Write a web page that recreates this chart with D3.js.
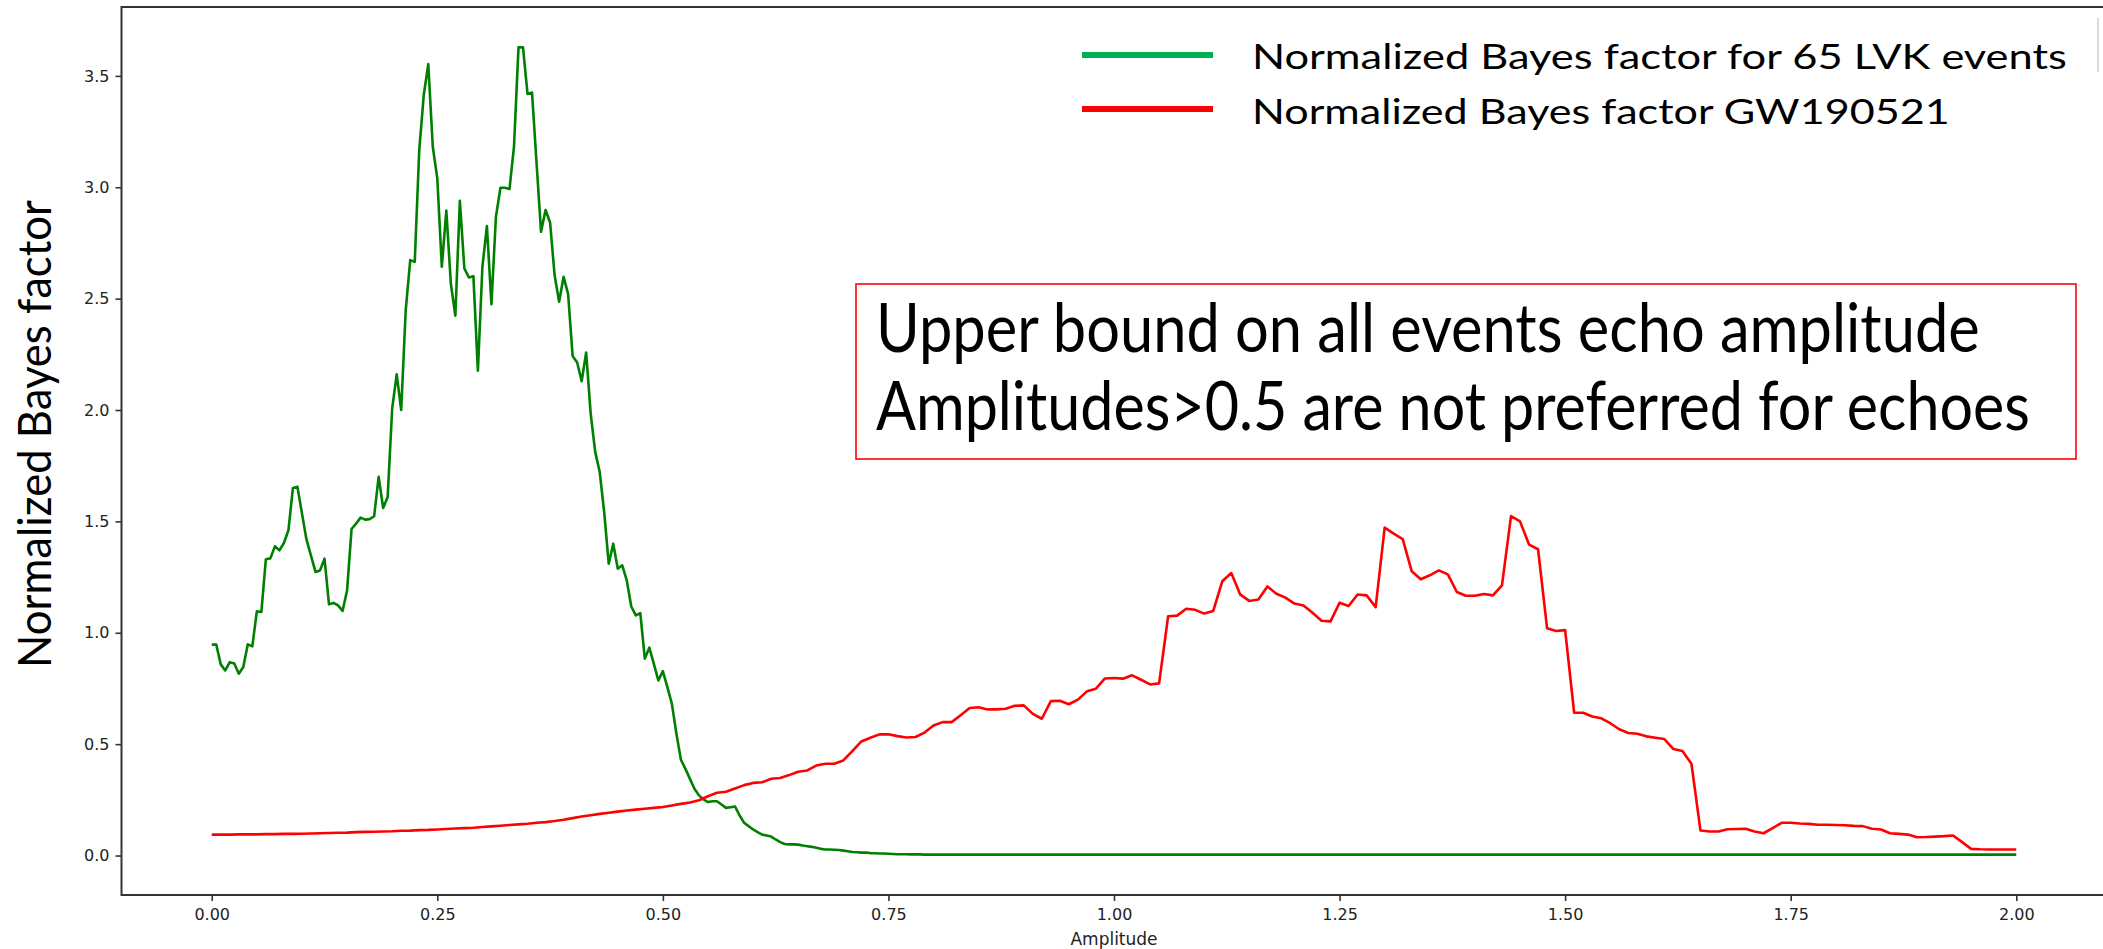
<!DOCTYPE html>
<html>
<head>
<meta charset="utf-8">
<script src="https://cdn.jsdelivr.net/npm/d3@7"></script>
<style>
  html, body { margin: 0; padding: 0; background: #ffffff; }
  svg { display: block; }
</style>
</head>
<body>
<svg id="chart" width="2103" height="949"></svg>
<script>
// Normalized Bayes factor versus echo amplitude.

// Stacked result for 65 LVK events, sampled every 0.005 in amplitude from 0 to 0.80
const greenStep = 0.005;
const greenBF = [
  0.947, 0.947, 0.858, 0.831, 0.868, 0.862, 0.816, 0.846, 0.948, 0.939,
  1.096, 1.093, 1.330, 1.334, 1.388, 1.370, 1.403, 1.460, 1.650, 1.655,
  1.536, 1.419, 1.346, 1.273, 1.280, 1.333, 1.128, 1.134, 1.123, 1.098,
  1.190, 1.466, 1.490, 1.517, 1.508, 1.510, 1.523, 1.700, 1.560, 1.610,
  2.007, 2.160, 2.000, 2.448, 2.673, 2.665, 3.167, 3.414, 3.553, 3.182,
  3.040, 2.643, 2.895, 2.568, 2.423, 2.939, 2.636, 2.595, 2.601, 2.176,
  2.643, 2.826, 2.475, 2.868, 2.998, 2.998, 2.992, 3.182, 3.628, 3.628,
  3.419, 3.425, 3.110, 2.800, 2.898, 2.842, 2.606, 2.486, 2.598, 2.520,
  2.242, 2.213, 2.129, 2.258, 1.984, 1.812, 1.722, 1.540, 1.310, 1.400,
  1.288, 1.303, 1.235, 1.118, 1.078, 1.088, 0.884, 0.933, 0.860, 0.786,
  0.828, 0.756, 0.681, 0.547, 0.430, 0.389, 0.344, 0.300, 0.270, 0.252,
  0.240, 0.244, 0.244, 0.229, 0.214, 0.217, 0.220, 0.180, 0.147, 0.132,
  0.117, 0.105, 0.094, 0.090, 0.085, 0.072, 0.060, 0.052, 0.050, 0.050,
  0.049, 0.045, 0.042, 0.039, 0.035, 0.030, 0.027, 0.027, 0.026, 0.025,
  0.022, 0.019, 0.016, 0.015, 0.013, 0.013, 0.011, 0.010, 0.009, 0.009,
  0.008, 0.007, 0.006, 0.006, 0.006, 0.005, 0.005, 0.005, 0.004, 0.004,
  0.004
];
// Remaining flat part of the stacked curve, [amplitude, value]
const greenTail = [
  [0.90, 0.004], [1.00, 0.004], [1.10, 0.004], [1.20, 0.004], [1.30, 0.004],
  [1.40, 0.004], [1.50, 0.004], [1.60, 0.004], [1.70, 0.004], [1.80, 0.004],
  [1.90, 0.004], [2.00, 0.004]
];

// GW190521 alone, sampled every 0.01 in amplitude from 0 to 2
const redStep = 0.01;
const redBF = [
  0.094, 0.094, 0.094, 0.095, 0.095, 0.095, 0.096, 0.096, 0.097, 0.097,
  0.098, 0.099, 0.100, 0.101, 0.102, 0.103, 0.105, 0.106, 0.107, 0.108,
  0.109, 0.111, 0.112, 0.114, 0.115, 0.117, 0.119, 0.121, 0.123, 0.125,
  0.128, 0.131, 0.134, 0.137, 0.140, 0.143, 0.147, 0.150, 0.155, 0.161,
  0.168, 0.175, 0.181, 0.187, 0.192, 0.197, 0.202, 0.206, 0.210, 0.214,
  0.218, 0.225, 0.232, 0.238, 0.248, 0.266, 0.282, 0.286, 0.301, 0.316,
  0.326, 0.329, 0.345, 0.348, 0.361, 0.376, 0.382, 0.404, 0.412, 0.412,
  0.427, 0.469, 0.512, 0.529, 0.544, 0.544, 0.536, 0.530, 0.532, 0.552,
  0.584, 0.599, 0.599, 0.630, 0.662, 0.666, 0.656, 0.656, 0.659, 0.672,
  0.674, 0.636, 0.614, 0.693, 0.695, 0.679, 0.700, 0.737, 0.749, 0.795,
  0.797, 0.794, 0.809, 0.789, 0.768, 0.773, 1.074, 1.077, 1.108, 1.103,
  1.086, 1.098, 1.231, 1.268, 1.171, 1.143, 1.149, 1.208, 1.175, 1.158,
  1.131, 1.122, 1.090, 1.054, 1.051, 1.135, 1.120, 1.172, 1.168, 1.115,
  1.472, 1.445, 1.420, 1.276, 1.240, 1.258, 1.280, 1.262, 1.183, 1.166,
  1.166, 1.174, 1.168, 1.213, 1.524, 1.500, 1.396, 1.375, 1.020, 1.008,
  1.012, 0.641, 0.641, 0.624, 0.616, 0.594, 0.567, 0.550, 0.547, 0.535,
  0.529, 0.523, 0.478, 0.469, 0.412, 0.112, 0.108, 0.108, 0.118, 0.119,
  0.120, 0.108, 0.100, 0.123, 0.147, 0.147, 0.144, 0.142, 0.138, 0.138,
  0.137, 0.136, 0.133, 0.132, 0.120, 0.117, 0.100, 0.097, 0.094, 0.082,
  0.083, 0.085, 0.087, 0.090, 0.060, 0.030, 0.028, 0.027, 0.027, 0.027,
  0.027
];

const xTicks = [0, 0.25, 0.5, 0.75, 1.0, 1.25, 1.5, 1.75, 2.0];
const yTicks = [0, 0.5, 1.0, 1.5, 2.0, 2.5, 3.0, 3.5];

const seriesNames = [
  "Normalized Bayes factor for 65 LVK events",
  "Normalized Bayes factor GW190521"
];
const noteLines = [
  "Upper bound on all events echo amplitude",
  "Amplitudes>0.5 are not preferred for echoes"
];
const xTitle = "Amplitude";
const yTitle = "Normalized Bayes factor";

// ---------------------------------------------------------------------------

const greenPoints = greenBF.map((v, i) => [i * greenStep, v]).concat(greenTail);
const redPoints = redBF.map((v, i) => [i * redStep, v]);

const svg = d3.select("#chart");

// Plot frame (the right edge falls just outside the canvas)
const frame = { left: 121.5, right: 2106.5, top: 7, bottom: 895 };

// Data limits padded by 5% on each side
const allPts = greenPoints.concat(redPoints);
const xExt = d3.extent(allPts, d => d[0]);
const yExt = d3.extent(allPts, d => d[1]);
const xPad = 0.05 * (xExt[1] - xExt[0]);
const yPad = 0.05 * (yExt[1] - yExt[0]);

const x = d3.scaleLinear()
  .domain([xExt[0] - xPad, xExt[1] + xPad])
  .range([frame.left, frame.right]);
const y = d3.scaleLinear()
  .domain([yExt[0] - yPad, yExt[1] + yPad])
  .range([frame.bottom, frame.top]);

const tickFont = "'DejaVu Sans', sans-serif";
const textColor = "#222222";

// Axes
const xAxis = svg.append("g")
  .attr("transform", `translate(0,${frame.bottom})`)
  .call(d3.axisBottom(x).tickValues(xTicks).tickFormat(d3.format(".2f"))
    .tickSize(6).tickPadding(8));
const yAxis = svg.append("g")
  .attr("transform", `translate(${frame.left},0)`)
  .call(d3.axisLeft(y).tickValues(yTicks).tickFormat(d3.format(".1f"))
    .tickSize(6).tickPadding(6));

[xAxis, yAxis].forEach(g => {
  g.select(".domain").remove();
  g.selectAll(".tick line").attr("stroke", "#333333").attr("stroke-width", 1.6);
  g.selectAll(".tick text")
    .attr("fill", textColor)
    .style("font-family", tickFont)
    .style("font-size", "16px");
});

// Spines
svg.append("rect")
  .attr("x", frame.left).attr("y", frame.top)
  .attr("width", frame.right - frame.left)
  .attr("height", frame.bottom - frame.top)
  .attr("fill", "none")
  .attr("stroke", "#333333").attr("stroke-width", 2);

// Curves
const line = d3.line().x(d => x(d[0])).y(d => y(d[1]));
const curves = [
  { pts: greenPoints, color: "#008000" },
  { pts: redPoints, color: "#ff0000" }
];
svg.append("g").selectAll("path")
  .data(curves)
  .join("path")
  .attr("d", d => line(d.pts))
  .attr("fill", "none")
  .attr("stroke", d => d.color)
  .attr("stroke-width", 2.6)
  .attr("stroke-linejoin", "round")
  .attr("stroke-linecap", "butt");

// x-axis title
svg.append("text")
  .attr("x", (frame.left + frame.right) / 2)
  .attr("y", 945)
  .attr("text-anchor", "middle")
  .attr("fill", textColor)
  .style("font-family", tickFont)
  .style("font-size", "17px")
  .text(xTitle);

// Condensed slide-style text: the font size is chosen so the line spans
// `width`, then the glyphs are stretched vertically to reach `size`.
const labelFont = "Lato, 'Open Sans', sans-serif";
function slideText(parent, str, opts) {
  const t = parent.append("text")
    .attr("fill", "#000000")
    .attr("text-anchor", opts.anchor || "start")
    .style("font-family", labelFont)
    .style("font-size", opts.size + "px")
    .text(str);
  const natural = t.node().getComputedTextLength();
  const fitted = opts.size * opts.width / natural;
  t.style("font-size", fitted + "px");
  const stretch = opts.size / fitted;
  const rot = opts.rotate ? ` rotate(${opts.rotate})` : "";
  t.attr("transform", `translate(${opts.x},${opts.y})${rot} scale(1,${stretch})`);
  return t;
}

slideText(svg, yTitle, { x: 51, y: 434, rotate: -90, anchor: "middle", size: 47, width: 468 });

// Legend
const legendColors = ["#00b050", "#ff0000"];
const legendRows = [
  { lineY: 55, baseY: 69, width: 815 },
  { lineY: 109, baseY: 124, width: 698 }
];
const legend = svg.append("g");
seriesNames.forEach((name, i) => {
  legend.append("line")
    .attr("x1", 1082).attr("x2", 1213)
    .attr("y1", legendRows[i].lineY).attr("y2", legendRows[i].lineY)
    .attr("stroke", legendColors[i])
    .attr("stroke-width", 6);
  slideText(legend, name, { x: 1252, y: legendRows[i].baseY, size: 35, width: legendRows[i].width });
});
legend.append("line")
  .attr("x1", 2098).attr("x2", 2098).attr("y1", 18).attr("y2", 72)
  .attr("stroke", "#cccccc").attr("stroke-width", 1.5);

// Annotation box
const note = svg.append("g");
note.append("rect")
  .attr("x", 856).attr("y", 284)
  .attr("width", 1220).attr("height", 175)
  .attr("fill", "#ffffff")
  .attr("stroke", "#ff0000")
  .attr("stroke-width", 1.6);
const noteRows = [
  { baseY: 352, width: 1104 },
  { baseY: 430, width: 1154 }
];
noteLines.forEach((t, i) => {
  slideText(note, t, { x: 876, y: noteRows[i].baseY, size: 67, width: noteRows[i].width });
});
</script>
</body>
</html>
